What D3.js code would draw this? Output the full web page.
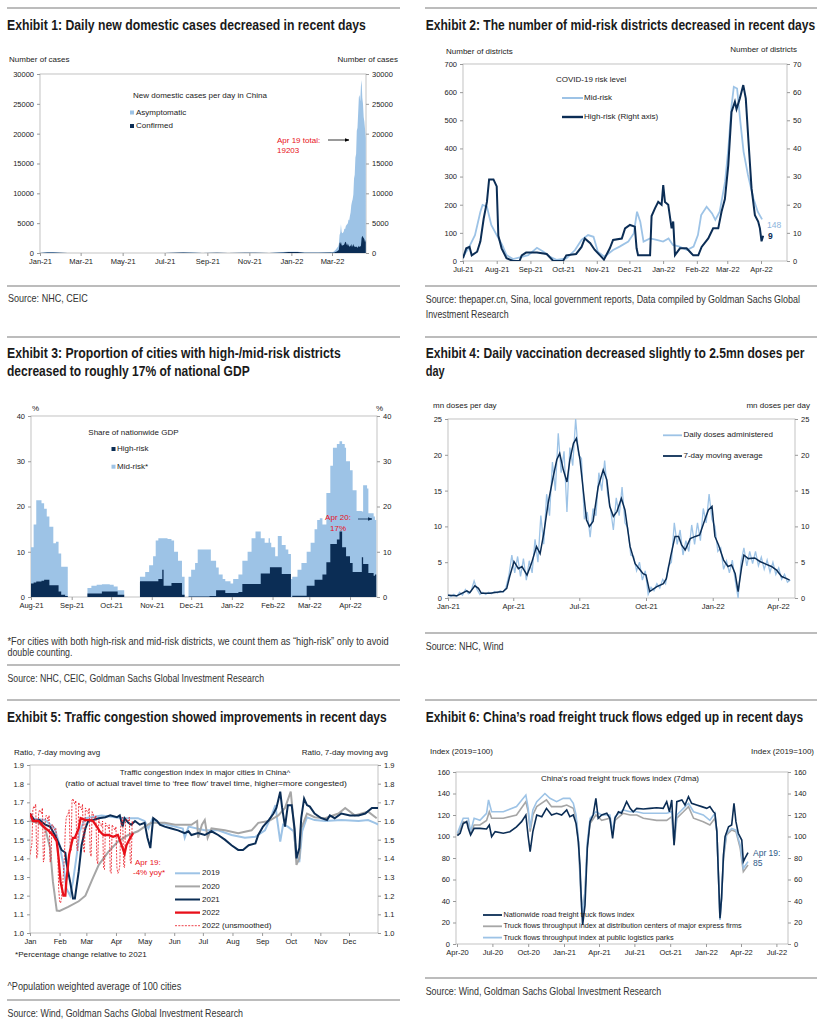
<!DOCTYPE html>
<html>
<head>
<meta charset="utf-8">
<script src="https://cdn.jsdelivr.net/npm/d3@7"></script>
<style>
body { margin: 0; background: #fff; }
svg { display: block; }
</style>
</head>
<body>
<div id="page"></div>
<script>
const W = 823, H = 1026;
const LIGHT = "#9dc3e6", NAVY = "#0b2d55", GRAY = "#a6a6a6", RED = "#e8101a";
const FONT = '"Liberation Sans", Arial, Helvetica, sans-serif';

// ---------- Exhibit 1: daily new domestic cases ----------
// sparse readings before the spring 2022 wave: [date, confirmed, asymptomatic]
const casesEarly = [
  ["2021-01-01", 10, 10], ["2021-01-12", 100, 80], ["2021-01-20", 100, 60], ["2021-01-31", 30, 20],
  ["2021-02-10", 0, 0], ["2021-05-20", 5, 0], ["2021-06-10", 15, 5], ["2021-07-01", 5, 2],
  ["2021-07-28", 70, 20], ["2021-08-10", 60, 15], ["2021-08-25", 0, 0], ["2021-09-15", 40, 10],
  ["2021-10-01", 5, 0], ["2021-10-25", 40, 10], ["2021-11-10", 40, 10], ["2021-11-30", 10, 5],
  ["2021-12-20", 100, 50], ["2021-12-28", 180, 40], ["2022-01-10", 150, 60], ["2022-01-20", 60, 30],
  ["2022-02-10", 50, 30], ["2022-02-28", 70, 40]
];
// daily from 2022-03-01 to 2022-04-19
const casesConfirmed = [60,80,90,100,120,160,200,250,350,400,550,1800,1500,1900,1300,1200,1400,1300,1500,1800,
  1900,1500,1200,1600,1300,1100,1100,1200,1500,1000,1200,
  1500,1100,1100,1000,1100,1000,900,1000,1200,1000,1100,1200,2500,2900,2700,2500,2300,1800,2200];
const casesAsym = [40,70,110,150,280,340,450,550,600,700,950,1200,1900,2900,2200,2100,2000,2300,2600,2200,
  2600,3200,3600,3400,4300,4400,5100,5600,6500,7600,7800,
  8300,11400,12000,15000,15500,19500,20100,22500,24900,25500,24300,26800,26500,23100,22300,20300,19700,18900,17003];
const casesTicks = [0, 5000, 10000, 15000, 20000, 25000, 30000];

// ---------- Exhibit 2: risk districts, [days since 2021-07-01, count] ----------
const midRisk = [[0,15],[5,45],[11,92],[16,175],[18,199],[22,193],[26,128],[31,92],[36,57],[40,21],[46,7],[54,15],
  [60,21],[68,47],[74,33],[80,15],[86,4],[95,9],[103,39],[109,75],[115,92],[120,86],[124,33],[130,15],[138,39],
  [144,51],[152,69],[157,98],[160,175],[163,140],[166,69],[172,80],[178,75],[184,69],[189,80],[193,57],[199,51],
  [206,39],[212,51],[216,92],[219,163],[224,193],[229,169],[232,146],[236,175],[241,282],[244,400],[247,554],
  [249,619],[252,613],[255,495],[258,388],[262,306],[267,223],[271,175],[275,148]];
const highRisk = [[0,1],[3,4.5],[6,5],[8,2],[13,3.3],[16,7],[19,15],[22,21],[24,29],[28,29],[31,26.5],[32.5,9],
  [35.5,4.5],[40,1],[46,0],[52,0],[54,2],[58,3],[68,3],[77,2.5],[83,0],[92,0],[95,2],[104,2.5],[109,5],[112,8],
  [117,6.3],[121,4],[126,2],[129.6,0.5],[135,4.5],[138,7.5],[146,8],[149,11.6],[153.5,12.8],[158,12.2],[159.6,4.5],
  [161,2],[172,2],[173.4,16],[176.5,18.7],[179.5,21],[182.6,20],[184.1,27],[185.7,21],[188.7,20],[191.8,11.6],
  [193.3,14],[194.9,2.1],[199.5,4.5],[205.6,4.5],[208.6,3.3],[211.7,2],[216.3,2],[219.4,5],[225.5,8],[230,11.6],
  [234.7,11.6],[237.7,17.5],[240.8,22],[243.9,34],[246.9,53],[250,56.6],[251.5,54],[254.6,57.8],[257.7,62.5],
  [260,57.8],[262.3,43.6],[265.3,25.8],[268.4,16.3],[271.4,14],[273,11.6],[274.5,7],[276,9]];
const riskTicksL = [0, 100, 200, 300, 400, 500, 600, 700];
const riskTicksR = [0, 10, 20, 30, 40, 50, 60, 70];

// ---------- Exhibit 3: GDP share, days since 2021-08-01 ----------
const gdpDays = [0,2,4,8,10,12,14,17,19,21,23,26,28,43,46,50,54,60,63,66,71,83,87,90,93,95,97,100,101,104,107,109,
  112,115,117,120,122,125,127,136,137,141,143,146,148,152,154,158,161,165,168,171,175,178,181,182,183,186,188,191,
  194,196,198,199,203,206,210,213,216,218,220,222,225,228,230,233,235,237,239,240,243,245,248,252,253,256,257,261,262,263];
const gdpHigh = [3.0,3.2,3.4,3.6,3.8,3.8,2.6,2.6,2.6,1.2,0.5,0.2,0,0.8,0.8,0.8,1.2,1.2,1.2,0.5,0,3.5,3.5,3.5,3.5,3.5,
  4.0,6.0,2.5,2.5,3.1,3.1,3.1,0.5,0,0.1,0.1,0.1,0.1,0.2,0.2,1.5,1.5,1.5,0.9,0.9,0.9,1.1,2.9,2.9,2.9,2.9,5.2,5.2,
  5.2,6.6,6.6,6.6,6.6,5.1,5.1,5.1,0,0.3,0.3,0.3,2.5,2.5,3.8,3.8,3.8,5.0,7.7,11.7,11.7,12.7,14.5,11,11,9,7.5,5.5,
  5.5,8.8,7.3,7.3,5.3,4.7,5.0,5.0];
const gdpMid = [8.0,12.8,18.0,17.1,15.7,14.0,12.9,9.3,9.6,8.4,6.2,6.5,0,1.2,1.7,1.9,1.6,1.5,1.1,1.0,0,1.0,2.0,3.5,
  5.5,9.0,9.0,7.0,10.5,10.3,9.4,6.9,4.9,4.0,0,4.4,5.9,7.4,10.4,10.3,7.8,5.0,3.5,2.5,2.6,2.1,3.1,3.9,5.1,7.1,10.1,
  11.6,7.8,6.8,7.8,5.4,4.4,2.4,6.9,6.4,5.4,4.4,4,4.2,5.7,7.2,7.5,9.5,11.2,13.2,13.6,11.0,15.3,17.3,21.3,21.1,
  19.9,22.8,22.0,21.0,20.5,18.1,13.5,10.1,17.4,16.7,13.2,13.1,12.0,12.0];
const pctTicks = [0, 10, 20, 30, 40];

// ---------- Exhibit 4: vaccination, [days since 2021-01-01, mn doses] ----------
const dosesMA = [[0,0.4],[12,0.3],[19,0.65],[26,1.0],[30,0.75],[37,1.7],[42,1.35],[46,0.65],[58,0.65],[67,0.8],
  [76,0.9],[81,1.35],[85,3.0],[91,5.1],[97,4.1],[102,4.4],[109,3.2],[115,4.8],[122,7.2],[127,6.2],[132,9.0],
  [138,13.2],[145,16.9],[150,19.3],[154,20.2],[159,17.9],[164,16.2],[168,19.3],[173,21.6],[177,22.3],[182,19.3],
  [187,14.6],[191,10.9],[195,10.0],[200,10.7],[207,15.5],[214,17.9],[219,16.5],[223,12.8],[228,11.4],[233,12.1],
  [239,13.9],[244,12.3],[251,7.2],[258,4.8],[265,3.9],[269,3.4],[273,3.2],[278,0.9],[288,1.6],[297,2.0],[301,2.7],
  [307,5.8],[313,8.6],[318,8.6],[322,7.4],[327,6.7],[334,8.3],[341,8.6],[347,8.8],[354,10.9],[359,12.3],[364,12.8],
  [368,8.6],[373,7.4],[380,5.3],[386,4.4],[391,4.6],[396,3.4],[400,0.9],[405,4.4],[408,6.0],[414,5.5],[423,5.6],
  [430,5.1],[439,4.7],[446,4.4],[453,3.9],[460,3.0],[467,2.7],[471,2.5]];
const dosesDaily = [[0,0.5],[4,0.2],[8,0.5],[12,0.2],[16,0.8],[20,0.4],[24,1.2],[28,0.6],[32,1.0],[36,2.4],[40,1.2],
  [44,0.5],[48,0.8],[52,0.5],[56,0.8],[60,0.6],[64,0.9],[68,0.7],[72,1.0],[76,0.8],[80,1.5],[84,3.2],[88,6.0],
  [92,3.5],[96,5.8],[100,3.0],[104,5.5],[108,2.5],[112,5.2],[116,3.5],[120,8.2],[124,5.0],[128,11.5],[132,7.5],
  [136,14.5],[140,11.5],[144,19.0],[148,15.0],[152,23.0],[156,17.5],[160,20.5],[164,12.0],[168,21.0],[172,18.5],
  [176,25.0],[180,20.0],[184,19.5],[188,11.0],[192,12.0],[196,8.5],[200,12.5],[204,11.5],[208,17.5],[212,15.0],
  [216,19.2],[220,14.5],[224,12.5],[228,9.5],[232,14.0],[236,11.5],[240,15.5],[244,10.5],[248,9.8],[252,6.0],
  [256,5.8],[260,3.8],[264,5.0],[268,2.5],[272,3.8],[276,0.5],[280,1.5],[284,1.0],[288,2.0],[292,1.4],[296,2.6],
  [300,2.0],[304,4.5],[308,5.0],[312,10.5],[316,7.5],[320,9.5],[324,6.0],[328,8.0],[332,6.5],[336,10.2],[340,7.5],
  [344,10.5],[348,8.0],[352,12.5],[356,10.5],[360,14.5],[364,11.0],[368,10.0],[372,6.5],[376,7.0],[380,4.0],
  [384,5.2],[388,3.5],[392,5.3],[396,2.5],[400,0.0],[404,5.0],[408,7.0],[412,4.5],[416,6.5],[420,4.8],[424,6.5],
  [428,4.5],[432,5.7],[436,4.0],[440,5.3],[444,3.6],[448,5.0],[452,3.3],[456,4.2],[460,2.6],[464,3.3],[468,2.2],[472,2.5]];
const dosesTicks = [0, 5, 10, 15, 20, 25];

// ---------- Exhibit 5: traffic congestion, [day of year, ratio] ----------
const traffic2019 = [[0,1.615],[16,1.605],[26,1.56],[31,1.47],[35,1.365],[38,1.24],[42,1.20],[45,1.275],[49,1.42],
  [52,1.545],[58,1.615],[75,1.63],[89,1.62],[99,1.615],[113,1.615],[120,1.60],[124,1.56],[128,1.61],[134,1.59],
  [152,1.57],[160,1.56],[162,1.51],[166,1.57],[183,1.55],[197,1.55],[211,1.525],[225,1.51],[236,1.515],[246,1.55],
  [253,1.63],[257,1.685],[259,1.60],[262,1.49],[265,1.58],[270,1.57],[276,1.545],[279,1.42],[282,1.38],[285,1.545],
  [290,1.62],[298,1.605],[309,1.60],[326,1.605],[344,1.60],[354,1.605],[361,1.59],[365,1.58]];
const traffic2020 = [[0,1.60],[9,1.59],[16,1.56],[21,1.455],[24,1.275],[28,1.12],[31,1.118],[40,1.14],[51,1.17],
  [58,1.20],[65,1.285],[72,1.365],[82,1.435],[92,1.49],[103,1.525],[113,1.545],[120,1.57],[127,1.59],[141,1.59],
  [152,1.58],[169,1.58],[175,1.60],[176,1.51],[180,1.58],[183,1.605],[186,1.51],[190,1.56],[204,1.55],[218,1.535],
  [232,1.55],[239,1.59],[250,1.60],[260,1.63],[267,1.67],[273,1.757],[276,1.60],[279,1.365],[282,1.40],[284,1.56],
  [290,1.64],[298,1.62],[309,1.615],[323,1.64],[330,1.67],[340,1.63],[354,1.65],[363,1.615]];
const traffic2021 = [[0,1.64],[5,1.60],[10,1.605],[16,1.58],[21,1.57],[26,1.525],[30,1.48],[33,1.445],[37,1.43],
  [38,1.38],[42,1.275],[45,1.185],[47,1.185],[51,1.33],[54,1.47],[58,1.56],[61,1.60],[66,1.605],[72,1.615],
  [79,1.62],[84,1.63],[91,1.62],[94,1.63],[97,1.57],[99,1.615],[103,1.59],[106,1.58],[110,1.60],[115,1.58],
  [120,1.59],[123,1.51],[126,1.455],[127,1.51],[129,1.615],[133,1.60],[136,1.58],[141,1.57],[148,1.56],[155,1.55],
  [162,1.535],[166,1.545],[169,1.525],[176,1.535],[183,1.525],[190,1.545],[197,1.525],[204,1.50],[211,1.47],
  [218,1.445],[223,1.445],[229,1.47],[236,1.48],[239,1.525],[244,1.57],[250,1.605],[255,1.64],[258,1.67],
  [262,1.757],[264,1.67],[267,1.57],[270,1.685],[274,1.685],[277,1.56],[279,1.40],[282,1.455],[284,1.615],
  [287,1.72],[290,1.685],[293,1.677],[298,1.64],[305,1.615],[311,1.605],[314,1.63],[319,1.615],[326,1.64],
  [335,1.63],[344,1.63],[351,1.64],[358,1.67],[365,1.67]];
const traffic2022 = [[0,1.64],[3,1.60],[9,1.60],[14,1.57],[19,1.55],[24,1.525],[28,1.49],[30,1.40],[32,1.275],
  [35,1.20],[37,1.20],[38,1.275],[41,1.42],[44,1.49],[45,1.51],[47,1.51],[51,1.56],[53,1.615],[58,1.605],
  [63,1.605],[66,1.60],[70,1.57],[73,1.545],[77,1.525],[82,1.525],[87,1.515],[92,1.525],[96,1.47],[99,1.425],
  [101,1.47],[105,1.51],[108,1.535]];
// daily, 2022-01-01 .. 2022-04-19
const traffic2022Raw = [1.42,1.45,1.48,1.66,1.68,1.67,1.69,1.40,1.42,1.64,1.66,1.65,1.64,1.67,1.38,1.40,1.61,1.63,
  1.62,1.60,1.63,1.38,1.40,1.58,1.58,1.56,1.55,1.56,1.50,1.46,1.24,1.17,1.16,1.19,1.24,1.32,1.40,1.56,1.62,1.63,
  1.64,1.66,1.46,1.44,1.71,1.72,1.70,1.69,1.71,1.46,1.44,1.70,1.68,1.67,1.66,1.69,1.45,1.43,1.67,1.66,1.65,1.64,
  1.67,1.43,1.41,1.65,1.64,1.62,1.61,1.63,1.39,1.37,1.61,1.59,1.58,1.57,1.60,1.35,1.34,1.59,1.58,1.57,1.56,1.58,
  1.33,1.32,1.58,1.57,1.56,1.55,1.57,1.35,1.32,1.33,1.36,1.58,1.60,1.62,1.36,1.35,1.60,1.61,1.60,1.60,1.62,1.38,
  1.37,1.60,1.58];
const trafficTicks = [1.0, 1.1, 1.2, 1.3, 1.4, 1.5, 1.6, 1.7, 1.8, 1.9];
const monthStarts = [0, 31, 59, 90, 120, 151, 181, 212, 243, 273, 304, 334];
const monthNames = ["Jan","Feb","Mar","Apr","May","Jun","Jul","Aug","Sep","Oct","Nov","Dec"];

// ---------- Exhibit 6: truck flows, [days since 2020-04-01, index] ----------
const truckNation = [[1,100.8],[8,103],[16,112],[25,114],[29,107.6],[35,101.4],[44,107.6],[59,107.6],[76,107],
  [83,110.7],[89,99.8],[98,104.5],[119,103],[136,104.5],[153,109],[166,113.8],[177,120],[183,100],[188,86],
  [195,104.5],[205,120],[218,118.4],[230,126.2],[243,120],[256,121.6],[269,120],[282,124.7],[290,118.4],[299,120],
  [306,112],[312,95],[316,73.5],[320,36],[323,17.7],[329,36],[335,89],[342,113.8],[350,120],[357,135.5],[363,117],
  [372,120],[385,121.6],[393,117],[400,98.3],[406,117],[415,123],[423,121.6],[436,132.4],[445,126.2],[453,123],
  [462,126.2],[479,125.6],[496,126.2],[513,126.8],[530,126.2],[539,132.4],[546,123],[552,134],[558,92],[565,132.4],
  [578,134],[586,129.3],[595,137],[603,130.9],[616,129.3],[629,127.8],[642,126.2],[650,127.8],[659,123],[663,121.6],
  [668,104.5],[672,64],[676,23.9],[680,42.5],[685,82.8],[689,99.8],[698,109],[706,110.7],[712,130.9],[717,113.8],
  [723,103],[732,96.7],[736,76.6],[740,79.7],[748,85]];
const truckExpress = [[1,101.4],[16,113.8],[29,112],[35,103],[44,110.7],[59,110.7],[76,115],[83,123],[89,117],
  [119,117],[153,120],[177,132.4],[183,123],[188,104.5],[195,120],[205,127.8],[230,134],[243,127.8],[269,127.8],
  [282,129.3],[299,126.2],[306,117],[312,95],[318,48.7],[323,30],[329,48.7],[335,92],[342,112],[357,120],[372,115],
  [393,117],[400,101.4],[406,115],[427,121.6],[445,120],[462,120],[479,117],[513,115],[539,115],[552,118.4],[558,92],
  [565,117],[582,123],[595,127.8],[608,117],[633,113.8],[650,110.7],[663,117],[668,104.5],[672,64],[676,22.3],
  [680,42.5],[685,79.7],[693,101.4],[706,106],[717,104.5],[728,89],[736,67.3],[748,73.5]];
const truckParks = [[1,103],[16,117],[29,117],[35,104.5],[44,117],[59,115],[76,121.6],[81,134],[89,123],[119,123],
  [153,127.8],[177,138.6],[183,126.2],[188,107.6],[195,124.7],[205,132.4],[226,140],[239,135.5],[256,132.4],
  [273,135.5],[290,135.5],[299,130.9],[306,120],[312,98.3],[318,51.8],[323,27],[329,48.7],[335,95],[342,117],
  [357,123],[372,120],[393,120],[400,104.5],[406,118.4],[427,124.7],[445,123],[462,123],[479,121.6],[513,121.6],
  [539,121.6],[552,123],[558,95],[565,120],[582,126.2],[595,130.9],[608,123],[633,120],[650,115],[663,121.6],
  [668,104.5],[672,64],[676,22.3],[680,42.5],[685,82.8],[693,103],[706,107.6],[717,106],[728,92],[736,70.4],[748,76.6]];
const truckTicks = [0, 20, 40, 60, 80, 100, 120, 140, 160];

// ---------- helpers ----------
const svg = d3.select("#page").append("svg").attr("width", W).attr("height", H);
const defs = svg.append("defs");
["#000", NAVY].forEach((c, i) => {
  defs.append("marker").attr("id", "arr" + i).attr("viewBox", "0 0 10 10").attr("refX", 9).attr("refY", 5)
    .attr("markerWidth", 6).attr("markerHeight", 6).attr("orient", "auto")
    .append("path").attr("d", "M0,1 L10,5 L0,9 Z").attr("fill", c);
});
const at = (base, d) => new Date(+base + d * 864e5);
const parse = d3.timeParse("%Y-%m-%d");

// o.len: target width; the text is squeezed horizontally to fill it (condensed look)
function text(x, y, s, o = {}) {
  const t = svg.append("text").attr("x", x).attr("y", y).text(s)
    .attr("font-size", o.size || 8).attr("fill", o.fill || "#222")
    .attr("text-anchor", o.anchor || "start")
    .style("font-family", FONT);
  if (!o.baseline) t.attr("dominant-baseline", "middle");
  if (o.weight) t.attr("font-weight", o.weight);
  if (o.len) {
    const natural = t.node().getComputedTextLength();
    if (natural > 0) {
      t.attr("x", 0).attr("y", 0)
        .attr("transform", `translate(${x},${y}) scale(${(o.len / natural).toFixed(4)},1)`);
    }
  }
  return t;
}
const title = (x, y, s, len) => text(x, y, s, { size: 14.5, weight: "bold", len, baseline: true, fill: "#1a1a1a" });
const source = (x, y, s, len) => text(x, y, s, { size: 10, len, baseline: true, fill: "#333" });
const rule = (x1, x2, y) => svg.append("line").attr("x1", x1).attr("x2", x2).attr("y1", y).attr("y2", y)
  .attr("stroke", "#a6a6a6").attr("stroke-width", 1.3);

let clipN = 0;
function frame(box, x, yL, yR, o) {
  svg.append("rect").attr("x", box.l).attr("y", box.t).attr("width", box.r - box.l).attr("height", box.b - box.t)
    .attr("fill", "none").attr("stroke", "#b3b3b3").attr("stroke-width", 0.8);
  const gs = [
    svg.append("g").attr("transform", `translate(${box.l},0)`)
      .call(d3.axisLeft(yL).tickValues(o.yTicks).tickFormat(o.yFmt).tickSize(3).tickPadding(3)),
    svg.append("g").attr("transform", `translate(${box.r},0)`)
      .call(d3.axisRight(yR).tickValues(o.yTicksR || o.yTicks).tickFormat(o.yFmt).tickSize(3).tickPadding(3)),
    svg.append("g").attr("transform", `translate(0,${box.b})`)
      .call(d3.axisBottom(x).tickValues(o.xTicks).tickFormat(o.xFmt).tickSize(3).tickPadding(3))
  ];
  gs.forEach(g => {
    g.attr("font-size", 7.5).attr("font-family", FONT);
    g.select(".domain").remove();
    g.selectAll("line").attr("stroke", "#999");
    g.selectAll("text").attr("fill", "#222");
  });
  const id = "clip" + (++clipN);
  svg.append("clipPath").attr("id", id).append("rect")
    .attr("x", box.l).attr("y", box.t).attr("width", box.r - box.l).attr("height", box.b - box.t);
  return svg.append("g").attr("clip-path", `url(#${id})`);
}
function legendLine(x1, x2, y, color, width, dash) {
  const l = svg.append("line").attr("x1", x1).attr("x2", x2).attr("y1", y).attr("y2", y)
    .attr("stroke", color).attr("stroke-width", width);
  if (dash) l.attr("stroke-dasharray", dash);
}
const fmtMY = d3.timeFormat("%b-%y");
const intFmt = d => d;

// ---------- layout rules ----------
[8, 286, 337, 665, 700, 1000].forEach(y => rule(7, 400, y));
[8, 286, 337, 633, 700, 978].forEach(y => rule(425, 817, y));

// ================= Exhibit 1 =================
{
  const box = { l: 40, r: 366, t: 74, b: 253 };
  const x = d3.scaleTime().domain([new Date(2021, 0, 1), new Date(2022, 2, 1)]).range([40, 332]);
  const y = d3.scaleLinear().domain([0, 30000]).range([box.b, box.t]);
  const g = frame(box, x, y, y, {
    yTicks: casesTicks, yFmt: intFmt,
    xTicks: d3.timeMonth.range(new Date(2021, 0, 1), new Date(2022, 2, 2), 2), xFmt: fmtMY
  });
  const start = new Date(2022, 2, 1);
  const rows = casesEarly.map(d => ({ date: parse(d[0]), c: d[1], a: d[2] }))
    .concat(casesConfirmed.map((c, i) => ({ date: at(start, i), c, a: casesAsym[i] })));
  g.append("path").datum(rows).attr("fill", LIGHT)
    .attr("d", d3.area().x(d => x(d.date)).y0(y(0)).y1(d => y(d.c + d.a)));
  g.append("path").datum(rows).attr("fill", NAVY)
    .attr("d", d3.area().x(d => x(d.date)).y0(y(0)).y1(d => y(d.c)));

  title(7, 29.5, "Exhibit 1: Daily new domestic cases decreased in recent days", 359);
  text(9, 60, "Number of cases");
  text(398, 60, "Number of cases", { anchor: "end" });
  text(133, 96, "New domestic cases per day in China");
  svg.append("rect").attr("x", 130).attr("y", 110.5).attr("width", 4).attr("height", 4).attr("fill", LIGHT);
  text(136, 112.7, "Asymptomatic");
  svg.append("rect").attr("x", 130).attr("y", 124).attr("width", 4).attr("height", 4).attr("fill", NAVY);
  text(136, 126, "Confirmed");
  text(277, 141, "Apr 19 total:", { fill: RED });
  text(277, 151, "19203", { fill: RED });
  svg.append("line").attr("x1", 328).attr("x2", 349).attr("y1", 140).attr("y2", 140)
    .attr("stroke", "#000").attr("stroke-width", 0.8).attr("marker-end", "url(#arr0)");
  source(8, 301.5, "Source: NHC, CEIC", 80);
}

// ================= Exhibit 2 =================
{
  const box = { l: 463, r: 787, t: 64, b: 261 };
  const base = new Date(2021, 6, 1);
  const x = d3.scaleTime().domain([base, new Date(2022, 3, 1)]).range([463, 761]);
  const yL = d3.scaleLinear().domain([0, 700]).range([box.b, box.t]);
  const yR = d3.scaleLinear().domain([0, 70]).range([box.b, box.t]);
  const g = frame(box, x, yL, yR, {
    yTicks: riskTicksL, yTicksR: riskTicksR, yFmt: intFmt,
    xTicks: d3.timeMonth.range(base, new Date(2022, 3, 2)), xFmt: fmtMY
  });
  g.append("path").datum(midRisk).attr("fill", "none").attr("stroke", LIGHT).attr("stroke-width", 1.8)
    .attr("d", d3.line().x(d => x(at(base, d[0]))).y(d => yL(d[1])));
  g.append("path").datum(highRisk).attr("fill", "none").attr("stroke", NAVY).attr("stroke-width", 2)
    .attr("d", d3.line().x(d => x(at(base, d[0]))).y(d => yR(d[1])));

  title(425.7, 29.5, "Exhibit 2: The number of mid-risk districts decreased in recent days", 390);
  text(446, 52, "Number of districts");
  text(797, 50, "Number of districts", { anchor: "end" });
  text(556, 80, "COVID-19 risk level");
  legendLine(562, 583, 98, LIGHT, 2);
  text(584, 98, "Mid-risk");
  legendLine(562, 583, 117, NAVY, 2.4);
  text(584, 117, "High-risk (Right axis)");
  text(767, 225.5, "148", { fill: "#8db4dc", size: 8.5 });
  text(768, 237, "9", { fill: NAVY, size: 8.5, weight: "bold" });
  source(425.7, 302.5, "Source: thepaper.cn, Sina, local government reports, Data compiled by Goldman Sachs Global", 375);
  source(425.7, 317.5, "Investment Research", 83);
}

// ================= Exhibit 3 =================
{
  const box = { l: 31, r: 377, t: 416, b: 597 };
  const base = new Date(2021, 7, 1);
  const x = d3.scaleTime().domain([base, new Date(2022, 3, 1)]).range([31, 350]);
  const y = d3.scaleLinear().domain([0, 40]).range([box.b, box.t]);
  const g = frame(box, x, y, y, {
    yTicks: pctTicks, yFmt: intFmt,
    xTicks: d3.timeMonth.range(base, new Date(2022, 3, 2)), xFmt: fmtMY
  });
  const rows = gdpDays.map((d, i) => ({ date: at(base, d), h: gdpHigh[i], m: gdpMid[i] }));
  g.append("path").datum(rows).attr("fill", LIGHT)
    .attr("d", d3.area().curve(d3.curveStepAfter).x(d => x(d.date)).y0(y(0)).y1(d => y(d.h + d.m)));
  g.append("path").datum(rows).attr("fill", NAVY)
    .attr("d", d3.area().curve(d3.curveStepAfter).x(d => x(d.date)).y0(y(0)).y1(d => y(d.h)));

  title(7, 358.3, "Exhibit 3: Proportion of cities with high-/mid-risk districts", 334);
  title(7, 376, "decreased to roughly 17% of national GDP", 243);
  text(32, 409, "%");
  text(383, 409, "%", { anchor: "end" });
  text(88.3, 433.3, "Share of nationwide GDP");
  svg.append("rect").attr("x", 111.5).attr("y", 447).attr("width", 4).attr("height", 4).attr("fill", NAVY);
  text(117, 449, "High-risk");
  svg.append("rect").attr("x", 111.5).attr("y", 464.7).attr("width", 4).attr("height", 4).attr("fill", LIGHT);
  text(117, 466.7, "Mid-risk*");
  text(338, 518.3, "Apr 20:", { fill: RED, anchor: "middle" });
  text(338, 529.3, "17%", { fill: RED, anchor: "middle" });
  svg.append("line").attr("x1", 358).attr("x2", 372).attr("y1", 519).attr("y2", 519)
    .attr("stroke", NAVY).attr("stroke-width", 0.8).attr("marker-end", "url(#arr1)");
  source(7.5, 645, "*For cities with both high-risk and mid-risk districts, we count them as \u201chigh-risk\u201d only to avoid", 382);
  source(7.5, 656, "double counting.", 65);
  source(7.5, 681.5, "Source: NHC, CEIC, Goldman Sachs Global Investment Research", 257);
}

// ================= Exhibit 4 =================
{
  const box = { l: 448, r: 795, t: 419, b: 598 };
  const base = new Date(2021, 0, 1);
  const x = d3.scaleTime().domain([base, new Date(2022, 3, 1)]).range([448, 778]);
  const y = d3.scaleLinear().domain([0, 25]).range([box.b, box.t]);
  const g = frame(box, x, y, y, {
    yTicks: dosesTicks, yFmt: intFmt,
    xTicks: d3.timeMonth.range(base, new Date(2022, 3, 2), 3), xFmt: fmtMY
  });
  const line = d3.line().x(d => x(at(base, d[0]))).y(d => y(d[1]));
  g.append("path").datum(dosesDaily).attr("fill", "none").attr("stroke", LIGHT).attr("stroke-width", 1.3).attr("d", line);
  g.append("path").datum(dosesMA).attr("fill", "none").attr("stroke", NAVY).attr("stroke-width", 1.5).attr("d", line);

  title(425.7, 358, "Exhibit 4: Daily vaccination decreased slightly to 2.5mn doses per", 379);
  title(425.7, 376, "day", 19);
  text(433, 406, "mn doses per day");
  text(810, 406, "mn doses per day", { anchor: "end" });
  legendLine(663, 682, 435.3, LIGHT, 1.8);
  text(683.5, 435.3, "Daily doses administered");
  legendLine(663, 682, 456, NAVY, 1.8);
  text(683.5, 456, "7-day moving average");
  source(425.7, 649.5, "Source: NHC, Wind", 78);
}

// ================= Exhibit 5 =================
{
  const box = { l: 30, r: 378, t: 765, b: 933 };
  const x = d3.scaleLinear().domain([0, 334]).range([30, 349]);
  const y = d3.scaleLinear().domain([1.0, 1.9]).range([box.b, box.t]);
  const g = frame(box, x, y, y, {
    yTicks: trafficTicks, yFmt: d3.format(".1f"),
    xTicks: monthStarts, xFmt: (d, i) => monthNames[i]
  });
  const line = d3.line().x(d => x(d[0])).y(d => y(d[1]));
  g.append("path").datum(traffic2019).attr("fill", "none").attr("stroke", LIGHT).attr("stroke-width", 2).attr("d", line);
  g.append("path").datum(traffic2020).attr("fill", "none").attr("stroke", GRAY).attr("stroke-width", 2).attr("d", line);
  g.append("path").datum(traffic2021).attr("fill", "none").attr("stroke", NAVY).attr("stroke-width", 2).attr("d", line);
  g.append("path").datum(traffic2022Raw.map((v, i) => [i, v])).attr("fill", "none").attr("stroke", RED)
    .attr("stroke-width", 0.8).attr("stroke-dasharray", "2,1.3").attr("d", line);
  g.append("path").datum(traffic2022).attr("fill", "none").attr("stroke", RED).attr("stroke-width", 2.3).attr("d", line);

  title(7, 722, "Exhibit 5: Traffic congestion showed improvements in recent days", 380);
  text(14, 753, "Ratio, 7-day moving avg");
  text(388, 753, "Ratio, 7-day moving avg", { anchor: "end" });
  text(205, 773, "Traffic congestion index in major cities in China^", { anchor: "middle" });
  text(206, 784, "(ratio of actual travel time to \u2018free flow\u2019 travel time, higher=more congested)", { anchor: "middle", len: 282 });
  text(135, 863, "Apr 19:", { fill: RED });
  text(133, 873.3, "-4% yoy*", { fill: RED });
  const leg = [["2019", LIGHT, 2, null], ["2020", GRAY, 2, null], ["2021", NAVY, 2, null],
    ["2022", RED, 2.3, null], ["2022 (unsmoothed)", RED, 0.8, "2,1.3"]];
  leg.forEach((d, i) => {
    const yy = 873.3 + i * 13.1;
    legendLine(175, 200, yy, d[1], d[2], d[3]);
    text(202, yy, d[0]);
  });
  text(15, 955, "*Percentage change relative to 2021", { len: 132 });
  source(7.5, 989.5, "^Population weighted average of 100 cities", 174);
  source(7.5, 1016.5, "Source: Wind, Goldman Sachs Global Investment Research", 236);
}

// ================= Exhibit 6 =================
{
  const box = { l: 456, r: 788, t: 772, b: 944 };
  const base = new Date(2020, 3, 1);
  const x = d3.scaleTime().domain([base, new Date(2022, 3, 1)]).range([457, 741]);
  const y = d3.scaleLinear().domain([0, 160]).range([box.b, box.t]);
  const g = frame(box, x, y, y, {
    yTicks: truckTicks, yFmt: intFmt,
    xTicks: d3.timeMonth.range(base, new Date(2022, 6, 2), 3), xFmt: fmtMY
  });
  const line = d3.line().x(d => x(at(base, d[0]))).y(d => y(d[1]));
  g.append("path").datum(truckExpress).attr("fill", "none").attr("stroke", GRAY).attr("stroke-width", 1.6).attr("d", line);
  g.append("path").datum(truckParks).attr("fill", "none").attr("stroke", LIGHT).attr("stroke-width", 1.6).attr("d", line);
  g.append("path").datum(truckNation).attr("fill", "none").attr("stroke", NAVY).attr("stroke-width", 1.6).attr("d", line);

  title(425.7, 722, "Exhibit 6: China\u2019s road freight truck flows edged up in recent days", 378);
  text(430, 752, "Index (2019=100)");
  text(814, 752, "Index (2019=100)", { anchor: "end" });
  text(620, 779, "China's road freight truck flows index (7dma)", { anchor: "middle" });
  const leg = [["Nationwide road freight truck flows index", NAVY],
    ["Truck flows throughput index at distribution centers of major express firms", GRAY],
    ["Truck flows throughput index at public logistics parks", LIGHT]];
  leg.forEach((d, i) => {
    const yy = 915 + i * 11.3;
    legendLine(483, 502, yy, d[1], 1.8);
    text(503.5, yy, d[0], { size: 7.3 });
  });
  text(753, 854, "Apr 19:", { fill: "#2e5a87", size: 8.5 });
  text(753, 864, "85", { fill: "#2e5a87", size: 8.5 });
  source(425.7, 994.5, "Source: Wind, Goldman Sachs Global Investment Research", 236);
}
</script>
</body>
</html>
